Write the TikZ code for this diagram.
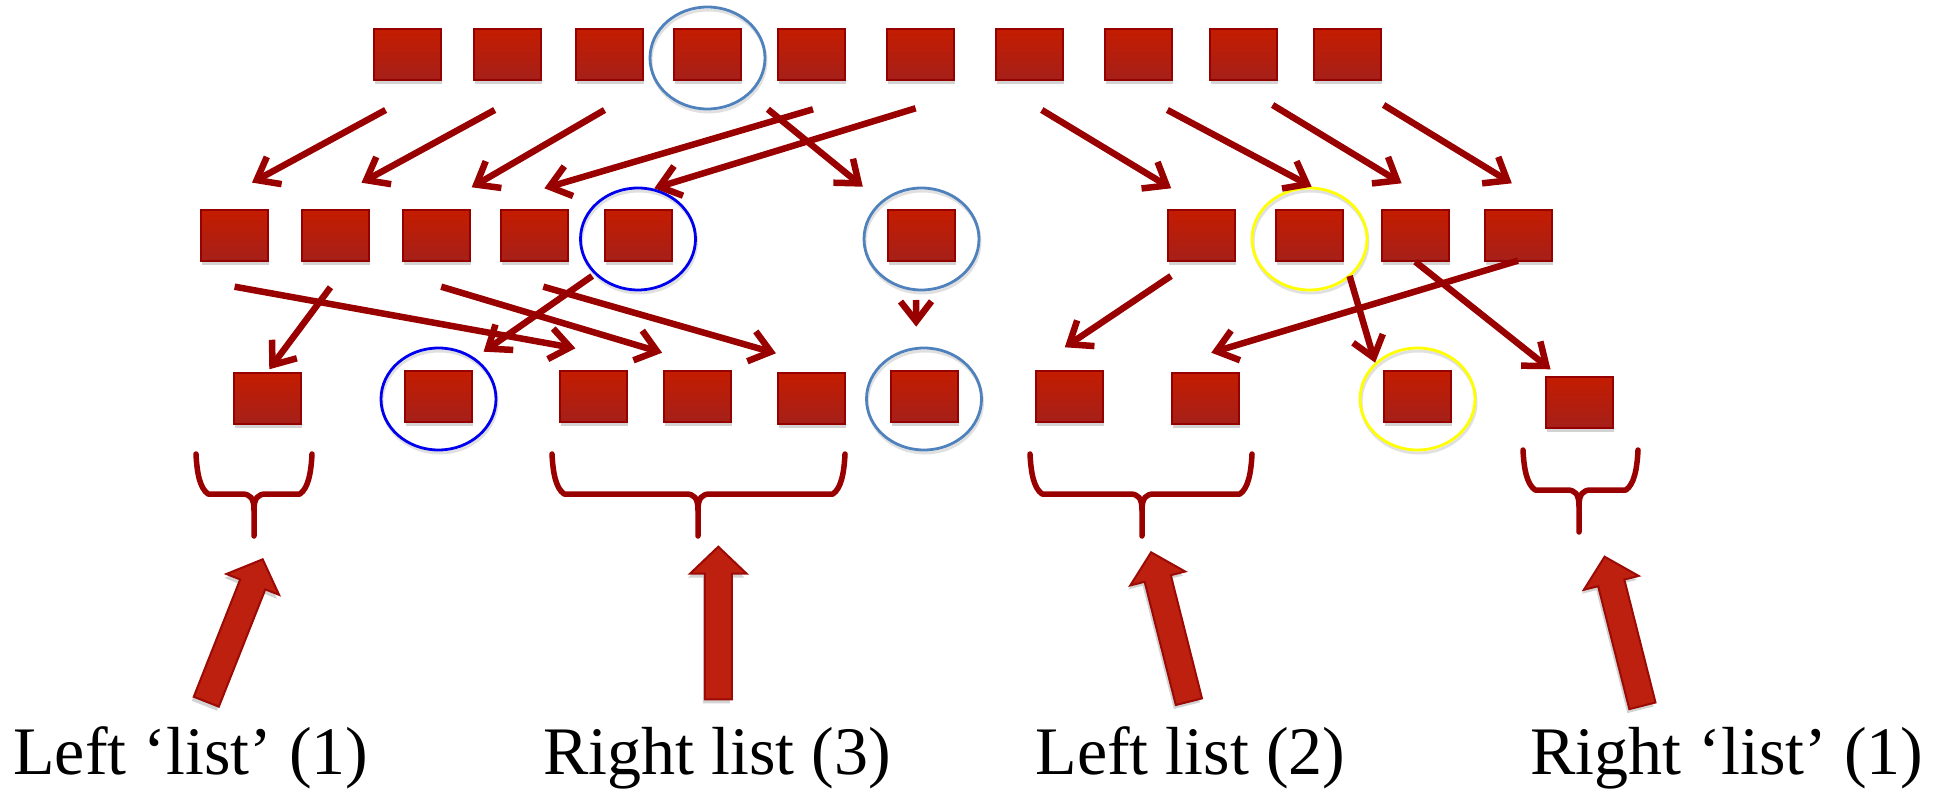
\documentclass[tikz,border=0pt]{standalone}
\usepackage{fontspec}
\setmainfont{Liberation Serif}
\usetikzlibrary{arrows.meta,calc,shadows}

\definecolor{boxtop}{HTML}{C41C00}
\definecolor{boxbot}{HTML}{A52019}
\definecolor{boxedge}{HTML}{950000}
\definecolor{linkred}{HTML}{990000}
\definecolor{fatfill}{HTML}{BE2010}
\definecolor{fatedge}{HTML}{9B0A05}
\definecolor{officeblue}{HTML}{4F81BD}
\definecolor{pureblue}{HTML}{0000EE}
\definecolor{marker}{HTML}{FFFF00}

\tikzset{
  cell/.style={draw=boxedge, line width=2pt, top color=boxtop, bottom color=boxbot,
    minimum width=67pt, minimum height=51pt, inner sep=0pt,
    drop shadow={shadow xshift=1pt, shadow yshift=-4pt, opacity=0.35}},
  conn/.style={draw=linkred, line width=6.5pt, -{Straight Barb[length=20pt,width=31pt]}},
  ring/.style={line width=2.8pt},
  ringshade/.style={line width=3pt, draw=black, opacity=0.12},
  curly/.style={draw=linkred, line width=5.5pt, line cap=round, line join=round},
  fat/.style={fill=fatfill, draw=fatedge, line width=2pt, line join=miter,
    drop shadow={shadow xshift=-2pt, shadow yshift=-4pt, opacity=0.35}},
  caption/.style={font=\fontsize{68}{80}\selectfont, anchor=base, inner sep=0pt},
}

% thick block arrow from tail #1 to tip #2
\newcommand\bigpointer[2]{%
  \coordinate (fh) at ($(#2)!27pt!(#1)$);
  \draw[fat] ($(#1)!13.5pt!90:(#2)$) -- ($(fh)!13.5pt!-90:(#1)$)
    -- ($(fh)!28.3pt!-90:(#1)$) -- (#2) -- ($(fh)!28.3pt!90:(#1)$)
    -- ($(fh)!13.5pt!90:(#1)$) -- ($(#1)!13.5pt!-90:(#2)$) -- cycle;}

% horizontal curly brace: left x, middle x, right x, top y, bar y, tip y
\newcommand\listbrace[6]{%
  \draw[curly] (#1,#4) .. controls (#1+1,#4+20) and (#1+4,#5-6) .. (#1+12,#5)
    -- (#2-12,#5) .. controls (#2-4,#5) and (#2,#5+4) .. (#2,#5+16) -- (#2,#6);
  \draw[curly] (#3,#4) .. controls (#3-1,#4+20) and (#3-4,#5-6) .. (#3-12,#5)
    -- (#2+12,#5) .. controls (#2+4,#5) and (#2,#5+4) .. (#2,#5+16);}

\begin{document}
\begin{tikzpicture}[x=1pt,y=-1pt]
\useasboundingbox (0,0) rectangle (1948,791);

% rows of cells
\foreach \n/\x in {1/407,2/507.5,3/609,4/707.5,5/811.5,6/920.5,7/1029.5,8/1138,9/1243.5,10/1347}
  \node[cell] (t\n) at (\x,55) {};
\foreach \n/\x in {1/234,2/335,3/436,4/534.5,5/638,6/921.5,7/1201,8/1309.5,9/1415,10/1518.5}
  \node[cell] (m\n) at (\x,236) {};
\foreach \n/\x/\y in {1/267/398.5,2/438.5/396,3/593/396,4/697/396,5/811.5/398.5,
    6/924/396,7/1069.5/396,8/1205/398.5,9/1417.5/396,10/1579/402}
  \node[cell] (b\n) at (\x,\y) {};

% highlighted cells
\foreach \c/\col in {t4/officeblue,m5/pureblue,m6/officeblue,m8/marker,b2/pureblue,b6/officeblue,b9/marker}{
  \draw[ringshade] ($(\c)+(1,6)$) ellipse [x radius=57.5pt, y radius=51pt];
  \draw[ring, draw=\col] ($(\c)+(0,3)$) ellipse [x radius=57.5pt, y radius=51pt];
}

% first split
\draw[conn] ($(t1)+(-21.4,55)$) -- ($(m1)+(18,-53.4)$);
\draw[conn] ($(t2)+(-12.8,55)$) -- ($(m2)+(26.5,-53.3)$);
\draw[conn] ($(t3)+(-4.5,55)$) -- ($(m3)+(35.7,-48.7)$);
\draw[conn] ($(t5)+(1.5,54.3)$) -- ($(m4)+(9.9,-47.7)$);
\draw[conn] ($(t6)+(-4.9,53.3)$) -- ($(m5)+(16.3,-47.7)$);
\draw[conn] ($(t4)+(60.4,54.3)$) -- ($(m6)+(-58.7,-49.3)$);
\draw[conn] ($(t7)+(12.3,55)$) -- ($(m7)+(-29.8,-47.7)$);
\draw[conn] ($(t8)+(29.4,55)$) -- ($(m8)+(2.1,-49.3)$);
\draw[conn] ($(t9)+(29.1,50)$) -- ($(m9)+(-13.4,-52.7)$);
\draw[conn] ($(t10)+(36.6,50)$) -- ($(m10)+(-6.7,-52.7)$);

% second split
\draw[conn] ($(m1)+(0.6,50.7)$) -- ($(b3)+(-17.6,-47.7)$);
\draw[conn] ($(m2)+(-4.5,51.3)$) -- ($(b1)+(2.3,-29.2)$);
\draw[conn] ($(m3)+(5.2,50.7)$) -- ($(b4)+(-34.9,-43.3)$);
\draw[conn] ($(m4)+(8.8,50.7)$) -- ($(b5)+(-35.6,-45.2)$);
\draw[conn] ($(m5)+(-45.8,40)$) -- ($(b2)+(45.1,-44.3)$);
\draw[conn] ($(m6)+(-5.5,64)$) -- ($(b6)+(-7.8,-69.3)$);
\draw[conn] ($(m7)+(-30,40)$) -- ($(b7)+(-4.7,-48.7)$);
\draw[conn] ($(m10)+(-0.6,24.7)$) -- ($(b8)+(6.3,-45.8)$);
\draw[conn] ($(m8)+(40.1,40)$) -- ($(b9)+(-42.4,-33.3)$);
\draw[conn] ($(m9)+(0.3,25.7)$) -- ($(b10)+(-28.5,-32.7)$);

% braces under the final lists
\listbrace{196}{254}{312}{454}{494}{536}
\listbrace{552}{698}{845}{454}{494}{536}
\listbrace{1030}{1142}{1252}{454}{494}{536}
\listbrace{1523}{1579}{1638}{450}{490}{532}

% pointers from captions to braces
\coordinate (p1a) at (206.3,701.7);  \coordinate (p1b) at (262.7,559.3);
\coordinate (p2a) at (718.3,699.3);  \coordinate (p2b) at (718.3,546.7);
\coordinate (p3a) at (1188.9,701.7); \coordinate (p3b) at (1151.1,552.3);
\coordinate (p4a) at (1642.4,705.8); \coordinate (p4b) at (1604.6,556.7);
\bigpointer{p1a}{p1b}
\bigpointer{p2a}{p2b}
\bigpointer{p3a}{p3b}
\bigpointer{p4a}{p4b}

% captions
\node[caption] (lab1) at (190.8,774) {Left ‘list’ (1)};
\node[caption] (lab2) at (716.9,774) {Right list (3)};
\node[caption] (lab3) at (1190.4,774) {Left list (2)};
\node[caption] (lab4) at (1727,774) {Right ‘list’ (1)};
\end{tikzpicture}
\end{document}
